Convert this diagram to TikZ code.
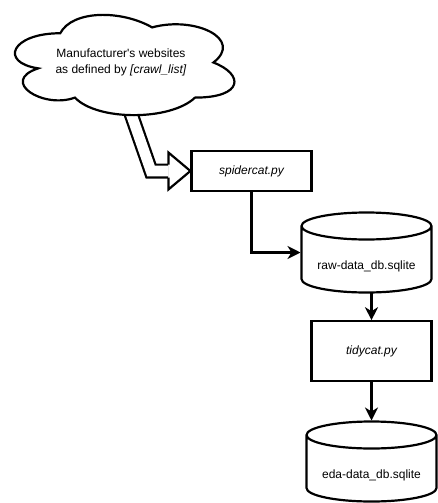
\documentclass[12pt,tikz,border=0pt]{standalone}
\usepackage{fontspec}
\setmainfont{Liberation Sans}
\usetikzlibrary{arrows.meta,calc}
\newcommand{\drumline}[1]{\draw[outline] ([yshift=-13.5pt]#1.north west) -- ([yshift=13.5pt]#1.south west) arc[start angle=180,end angle=360,x radius=65pt,y radius=13.5pt] -- ([yshift=-13.5pt]#1.north east) arc[start angle=0,end angle=360,x radius=65pt,y radius=13.5pt];}

\begin{document}
\begin{tikzpicture}[x=1pt,y=-1pt,
	outline/.style={line width=2.2pt},
	script/.style={draw,line width=2.2pt,minimum width=120pt,inner sep=0pt,font=\itshape},
	drum/.style={minimum width=130pt,minimum height=80pt,inner sep=0pt,outer sep=0pt,text height=34pt,text depth=0pt},
	link/.style={line width=2.2pt,-{Stealth[length=13pt,width=13pt,inset=4pt]}},
	hollow/.style={line width=2.2pt,double distance=10.6pt}]

	\useasboundingbox (0,0) rectangle (438,503);

	\coordinate (cloud-out) at (128.5,106.5);
	\coordinate (bend) at (151,171);
	\node[script,minimum height=40pt] (spider) at (251.5,171) {spidercat.py};

	\draw[hollow] (cloud-out) -- (bend) -- ($(spider.west)+(-22,0)$);
	\draw[outline,fill=white] ($(spider.west)+(-22,-6.5)$) -- ++(0,-12) -- (spider.west) -- ($(spider.west)+(-22,18.5)$) -- ++(0,-12);

	\draw[outline,fill=white,shift={(-1,4)},x=245pt,y=-117pt] (0.25,0.25) .. controls (0.05,0.25) and (0,0.5) .. (0.16,0.55) .. controls (0,0.66) and (0.18,0.9) .. (0.31,0.8) .. controls (0.4,1) and (0.7,1) .. (0.8,0.8) .. controls (1,0.8) and (1,0.6) .. (0.875,0.5) .. controls (1,0.3) and (0.8,0.1) .. (0.625,0.2) .. controls (0.5,0.05) and (0.3,0.05) .. (0.25,0.25) -- cycle;
	\node[align=center,font=\fontsize{12}{16}\selectfont] (cloud) at (121,62) {Manufacturer\textquotesingle s websites\\as defined by \textit{[crawl\_list]}};

	\node[drum] (raw) at (366.5,252.5) {raw-data\_db.sqlite};
	\drumline{raw}
	\node[script,minimum height=60pt] (tidy) at (371.5,351.3) {tidycat.py};
	\node[drum] (eda) at (371.5,461.5) {eda-data\_db.sqlite};
	\drumline{eda}

	\draw[link,shorten >=1pt] (spider.south) |- (raw.west);
	\draw[link] (raw.south -| tidy.north) -- (tidy.north);
	\draw[link,shorten >=1pt] (tidy.south) -- (eda.north);
\end{tikzpicture}
\end{document}
